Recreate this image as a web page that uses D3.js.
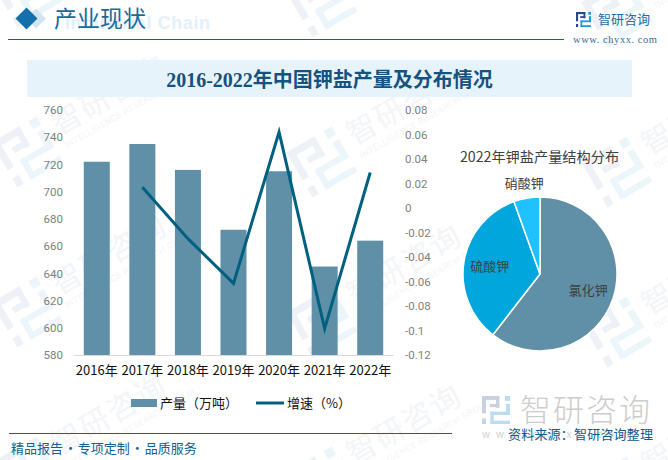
<!DOCTYPE html>
<html>
<head>
<meta charset="utf-8">
<script src="https://cdn.jsdelivr.net/npm/d3@7"></script>
<style>
	html, body { margin: 0; padding: 0; background: #fff; }
	svg { display: block; }
	text { font-family: "Noto Sans CJK SC", sans-serif; }
</style>
</head>
<body>
<div id="chart"></div>
<script>
// chart values
const years = ["2016年", "2017年", "2018年", "2019年", "2020年", "2021年", "2022年"];
const output = [722, 735, 716, 672, 715, 645, 664];
const growth = [null, 0.017, -0.025, -0.0615, 0.062, -0.0985, 0.029];
const outputTicks = [580, 600, 620, 640, 660, 680, 700, 720, 740, 760];
const growthTicks = [-0.12, -0.1, -0.08, -0.06, -0.04, -0.02, 0, 0.02, 0.04, 0.06, 0.08];
const pieNames = ["氯化钾", "硫酸钾", "硝酸钾"];
const pieShares = [60.5, 34, 5.5];
const pieColors = ["#5f90a8", "#00a6dc", "#1fc2ff"];

const width = 668, height = 460;
const svg = d3.select("#chart").append("svg")
	.attr("width", width)
	.attr("height", height);

// company logo, made of small blocks on a 0..1 grid
const logoLeft = [[0, 0, .62, .14], [0, 0, .14, .62], [.5, 0, .12, .42], [.28, .28, .34, .12], [0, .8, .14, .2]];
const logoRight = [[.82, 0, .18, .18], [.86, .28, .14, .4], [.3, .56, .7, .12], [.3, .56, .12, .44], [.3, .88, .7, .12]];

function drawLogo(parent, x, y, size, colorLeft, colorRight) {
	let g = parent.append("g").attr("transform", `translate(${x},${y}) scale(${size})`);
	g.selectAll(".l").data(logoLeft).enter().append("rect")
		.attr("x", d => d[0]).attr("y", d => d[1]).attr("width", d => d[2]).attr("height", d => d[3])
		.attr("fill", colorLeft);
	g.selectAll(".r").data(logoRight).enter().append("rect")
		.attr("x", d => d[0]).attr("y", d => d[1]).attr("width", d => d[2]).attr("height", d => d[3])
		.attr("fill", colorRight);
}

// background watermark
let marks = svg.append("g");
for (let c = 0; c < 3; c++) {
	for (let r = -1; r < 3; r++) {
		let m = marks.append("g")
			.attr("transform", `translate(${27 + 295 * c},${152 + 160 * r + 10 * c}) rotate(-30)`);
		drawLogo(m, -26, -26, 52, "#eef2f7", "#ebf5fa");
		m.append("text")
			.attr("x", 36).attr("y", 2)
			.attr("font-size", 30)
			.attr("letter-spacing", 2)
			.attr("fill", "#f3f5f8")
			.text("智研咨询");
		m.append("text")
			.attr("x", 36).attr("y", 17)
			.attr("font-size", 9)
			.attr("letter-spacing", .4)
			.style("font-family", "Roboto")
			.attr("fill", "#f3f5f8")
			.text("INTELLIGENCE RESEARCH GROUP");
	}
}

// header
svg.append("text")
	.attr("x", 65).attr("y", 29)
	.attr("font-size", 18)
	.attr("letter-spacing", .6)
	.attr("font-weight", 700)
	.attr("fill", "#e3f0fa")
	.style("font-family", "'Liberation Sans'")
	.text("Industrial Chain");
svg.append("path")
	.attr("d", d3.symbol(d3.symbolSquare, 200)())
	.attr("transform", "translate(36,18.5) rotate(45)")
	.attr("fill", "#d5e5ef");
svg.append("path")
	.attr("d", d3.symbol(d3.symbolSquare, 242)())
	.attr("transform", "translate(26.5,18.5) rotate(45)")
	.attr("fill", "#1470aa");
svg.append("text")
	.attr("x", 54).attr("y", 27)
	.attr("font-size", 23)
	.attr("fill", "#1a6a9e")
	.text("产业现状");
svg.append("line")
	.attr("x1", 8).attr("x2", 564).attr("y1", 39.5).attr("y2", 39.5)
	.attr("stroke", "#1a5f8a");

drawLogo(svg, 576, 12, 15, "#27468c", "#1f9bdc");
svg.append("text")
	.attr("x", 598).attr("y", 24)
	.attr("font-size", 13)
	.attr("fill", "#1f6ea5")
	.text("智研咨询");
svg.append("text")
	.attr("x", 573).attr("y", 43)
	.attr("font-size", 10.5)
	.attr("letter-spacing", .55)
	.attr("fill", "#3a6c96")
	.style("font-family", "'Liberation Serif'")
	.text("www. chyxx. com");

// title band
svg.append("rect")
	.attr("x", 27).attr("y", 60).attr("width", 605).attr("height", 37)
	.attr("fill", "#e6f3fb");
svg.append("text")
	.attr("x", 329.5).attr("y", 87)
	.attr("text-anchor", "middle")
	.attr("font-size", 20)
	.attr("font-weight", 700)
	.attr("fill", "#14527f")
	.style("font-family", "'Liberation Serif', 'Noto Sans CJK SC'")
	.text("2016-2022年中国钾盐产量及分布情况");

// bars and line
let x = d3.scaleBand().domain(years).range([74, 393]);
let yBar = d3.scaleLinear().domain([580, 760]).range([355, 110]);
let yLine = d3.scaleLinear().domain([-0.12, 0.08]).range([355, 110]);
let barWidth = 26;

svg.selectAll(".bar")
	.data(years)
	.enter().append("rect")
	.attr("class", "bar")
	.attr("x", d => x(d) + x.bandwidth() / 2 - barWidth / 2)
	.attr("y", (d, i) => yBar(output[i]))
	.attr("width", barWidth)
	.attr("height", (d, i) => yBar(580) - yBar(output[i]))
	.attr("fill", "#5f90a8");

let line = d3.line()
	.defined(d => d !== null)
	.x((d, i) => x(years[i]) + x.bandwidth() / 2)
	.y(d => yLine(d));
svg.append("path")
	.attr("d", line(growth))
	.attr("fill", "none")
	.attr("stroke", "#006080")
	.attr("stroke-width", 3);

// axes
let leftAxis = svg.append("g")
	.attr("transform", "translate(68,0)")
	.call(d3.axisLeft(yBar).tickValues(outputTicks).tickSize(0).tickPadding(5));
leftAxis.select(".domain").remove();
leftAxis.selectAll("text")
	.attr("font-size", 11.5)
	.attr("fill", "#7f7f7f")
	.style("font-family", "Roboto");

let rightAxis = svg.append("g")
	.attr("transform", "translate(399,0)")
	.call(d3.axisRight(yLine).tickValues(growthTicks).tickSize(0).tickPadding(6).tickFormat(d => String(d)));
rightAxis.select(".domain").remove();
rightAxis.selectAll("text")
	.attr("font-size", 11.5)
	.attr("fill", "#7f7f7f")
	.style("font-family", "Roboto");

let bottomAxis = svg.append("g")
	.attr("transform", "translate(0,355)")
	.call(d3.axisBottom(x).tickSize(0).tickPadding(11));
bottomAxis.select(".domain").attr("stroke", "#d9d9d9");
bottomAxis.selectAll("text")
	.attr("font-size", 13)
	.attr("fill", "#111");

// legend
svg.append("rect")
	.attr("x", 131).attr("y", 399).attr("width", 26).attr("height", 8)
	.attr("fill", "#5f90a8");
svg.append("text")
	.attr("x", 160).attr("y", 408)
	.attr("font-size", 13)
	.attr("fill", "#111")
	.text("产量（万吨）");
svg.append("line")
	.attr("x1", 256).attr("x2", 284).attr("y1", 403).attr("y2", 403)
	.attr("stroke", "#006080")
	.attr("stroke-width", 3);
svg.append("text")
	.attr("x", 287).attr("y", 408)
	.attr("font-size", 13)
	.attr("fill", "#111")
	.text("增速（%）");

// pie
let pieCentre = svg.append("g").attr("transform", "translate(540,274)");
let pie = d3.pie().sort(null)(pieShares);
let arc = d3.arc().innerRadius(0).outerRadius(77);

pieCentre.selectAll(".slice")
	.data(pie)
	.enter().append("path")
	.attr("class", "slice")
	.attr("d", arc)
	.attr("fill", (d, i) => pieColors[i])
	.attr("stroke", "#fff")
	.attr("stroke-width", 1.5);

// small slice has its label outside the pie
pieCentre.selectAll(".slice-label")
	.data(pie)
	.enter().append("text")
	.attr("class", "slice-label")
	.attr("transform", d => {
		let r = d.data < 10 ? 92 : 51;
		return `translate(${d3.arc().innerRadius(r).outerRadius(r).centroid(d)})`;
	})
	.attr("text-anchor", "middle")
	.attr("dy", "0.36em")
	.attr("font-size", 13)
	.attr("fill", "#404040")
	.text((d, i) => pieNames[i]);

svg.append("text")
	.attr("x", 539.5).attr("y", 162)
	.attr("text-anchor", "middle")
	.attr("font-size", 14.2)
	.attr("fill", "#404040")
	.text("2022年钾盐产量结构分布");

// footer
drawLogo(svg, 482, 396, 28, "#c9d0de", "#bcdcf0");
svg.append("text")
	.attr("x", 520).attr("y", 421)
	.attr("font-size", 31)
	.attr("font-weight", 300)
	.attr("letter-spacing", 2)
	.attr("fill", "#cdcdcd")
	.text("智研咨询");
svg.append("text")
	.attr("x", 482).attr("y", 438)
	.attr("font-size", 10)
	.attr("letter-spacing", 6)
	.attr("fill", "#d0d0d0")
	.text("www.chyxx.com");
svg.append("line")
	.attr("x1", 9).attr("x2", 452).attr("y1", 433.5).attr("y2", 433.5)
	.attr("stroke", "#1a5f8a");
svg.append("text")
	.attr("x", 11).attr("y", 453)
	.attr("font-size", 13)
	.attr("word-spacing", -2)
	.attr("fill", "#11608f")
	.text("精品报告 · 专项定制 · 品质服务");
svg.append("text")
	.attr("x", 508).attr("y", 439)
	.attr("font-size", 13)
	.attr("letter-spacing", .2)
	.attr("fill", "#0f5a8c")
	.text("资料来源：智研咨询整理");
</script>
</body>
</html>
